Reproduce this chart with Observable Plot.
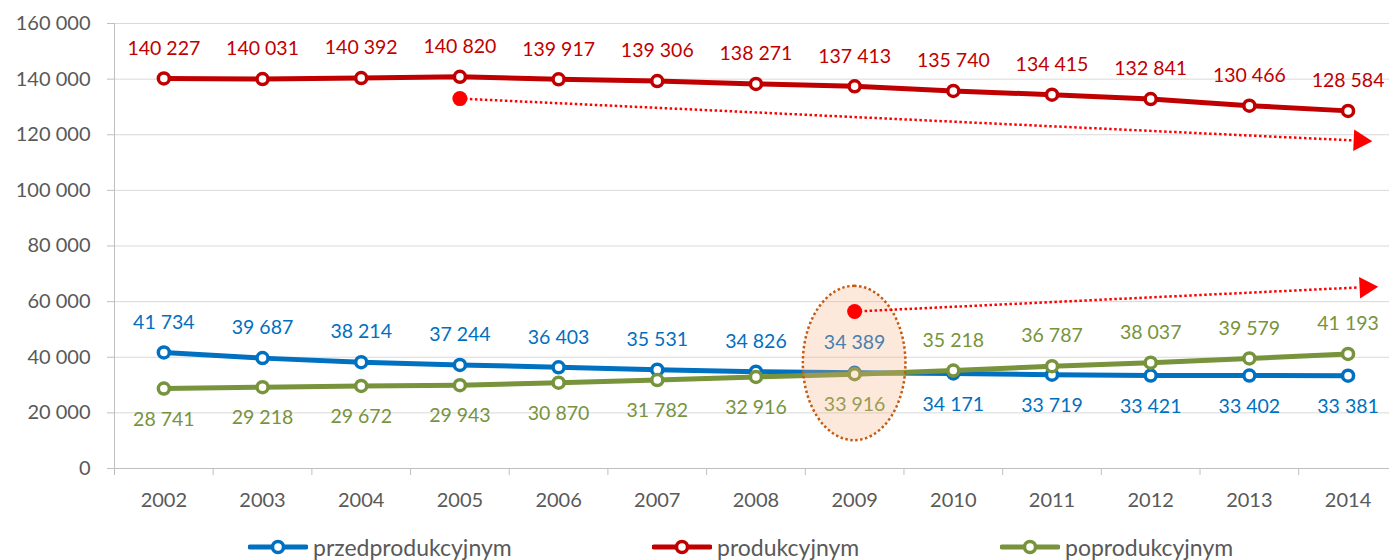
<!DOCTYPE html>
<html><head><meta charset="utf-8">
<script src="https://cdn.jsdelivr.net/npm/d3@7"></script>
<script src="https://cdn.jsdelivr.net/npm/@observablehq/plot@0.6"></script>
<style>
body{margin:0;background:#fff;font-family:Lato,sans-serif;}
#chart{position:relative;width:1389px;height:560px;overflow:hidden;}
#chart > svg{position:absolute;left:0;top:0;}
.lg{position:absolute;top:533px;display:flex;align-items:center;font-size:23px;color:#595959;white-space:nowrap;}
.lg svg{margin-right:5px;}
</style></head><body><div id="chart"></div>
<script>
const years = [2002,2003,2004,2005,2006,2007,2008,2009,2010,2011,2012,2013,2014];
const przedprodukcyjnym = [41734,39687,38214,37244,36403,35531,34826,34389,34171,33719,33421,33402,33381];
const produkcyjnym = [140227,140031,140392,140820,139917,139306,138271,137413,135740,134415,132841,130466,128584];
const poprodukcyjnym = [28741,29218,29672,29943,30870,31782,32916,33916,35218,36787,38037,39579,41193];
const seriesNames = ["przedprodukcyjnym","produkcyjnym","poprodukcyjnym"];
const seriesColors = ["#0070C0","#C00000","#77933C"];
const yTicks = [0,20000,40000,60000,80000,100000,120000,140000,160000];
// trend annotation arrows (start dot -> arrow head)
const trendStart = [{year:2005, value:133000},{year:2009, value:56450}];
const trendEnd = [{year:2014.04, value:118000},{year:2014.11, value:65100}];
const trendHead = [{year:2014.12, value:117900},{year:2014.18, value:65100}];
// highlighted crossing region around 2009
const highlight = [{x1:2008.48, x2:2009.52, y1:10000, y2:65500}];

const fmt = v => d3.format(",")(v).replace(/,/g, "\u00a0");
const seriesValues = [przedprodukcyjnym, produkcyjnym, poprodukcyjnym];
const rows = seriesValues.map((vals, s) => years.map((year, i) => {
  let above = true;
  if (s === 0) above = vals[i] > poprodukcyjnym[i];
  if (s === 2) above = vals[i] > przedprodukcyjnym[i];
  return {year, value: vals[i], s, above};
}));
const links = trendStart.map((d, i) => ({x1:d.year, y1:d.value, x2:trendEnd[i].year, y2:trendEnd[i].value}));

const seriesMarks = rows.flatMap((data, s) => [
  Plot.line(data, {x:"year", y:"value", stroke:seriesColors[s], strokeWidth:5}),
  Plot.dot(data, {x:"year", y:"value", r:5.5, fill:"white", stroke:seriesColors[s], strokeWidth:3.5})
]);
const labelMarks = rows.flatMap((data, s) => [
  Plot.text(data, {filter:d=>d.above, x:"year", y:"value", text:d=>fmt(d.value), dy:-30, fill:seriesColors[s], fontSize:19.5}),
  Plot.text(data, {filter:d=>!d.above, x:"year", y:"value", text:d=>fmt(d.value), dy:31, fill:seriesColors[s], fontSize:19.5})
]);

const plot = Plot.plot({
  width:1389, height:525, marginLeft:114, marginRight:0, marginTop:23, marginBottom:57,
  style:{fontFamily:"Lato, sans-serif", background:"transparent", overflow:"visible"},
  x:{type:"linear", domain:[2001.5, 2014.42], label:null},
  y:{domain:[0,160000], label:null},
  marks:[
    Plot.ruleY(yTicks.filter(v=>v>0), {stroke:"#D9D9D9", strokeWidth:1}),
    Plot.axisY({ticks:yTicks, tickSize:7, tickFormat:()=>"", stroke:"#BFBFBF", label:null}),
    Plot.axisY({ticks:yTicks, tickSize:0, tickPadding:24, tickFormat:fmt, fontSize:20, fill:"#595959", label:null}),
    Plot.axisX({ticks:d3.range(2001.5, 2015, 1), tickSize:7, tickFormat:()=>"", stroke:"#BFBFBF", label:null}),
    Plot.axisX({ticks:years, tickSize:0, tickPadding:24, tickFormat:d=>String(d), fontSize:20, fill:"#595959", label:null}),
    Plot.ruleY([0], {stroke:"#BFBFBF", strokeWidth:1}),
    Plot.ruleX([2001.5], {stroke:"#BFBFBF", strokeWidth:1}),
    ...seriesMarks,
    ...labelMarks,
    Plot.rect(highlight, {x1:"x1", x2:"x2", y1:"y1", y2:"y2", rx:80, ry:100, fill:"#F4B183", fillOpacity:0.28, stroke:"#C55A11", strokeWidth:2.5, strokeDasharray:"2.5 2.5"}),
    Plot.link(links, {x1:"x1", y1:"y1", x2:"x2", y2:"y2", stroke:"#FF0000", strokeWidth:2.5, strokeDasharray:"2.5 2.5"}),
    Plot.dot(trendStart, {x:"year", y:"value", r:7.5, fill:"#FF0000"}),
    Plot.dot(trendHead, {x:"year", y:"value", symbol:"triangle", r:8, fill:"#FF0000", rotate:(d,i)=>i===0?92.7:87.3})
  ]
});
const chart = document.getElementById("chart");
chart.appendChild(plot);

const legendLeft = [248, 652, 1000];
seriesNames.forEach((name, i) => {
  const div = document.createElement("div");
  div.className = "lg";
  div.style.left = legendLeft[i] + "px";
  div.innerHTML = `<svg width="60" height="16"><line x1="2" x2="58" y1="8" y2="8" stroke="${seriesColors[i]}" stroke-width="5" stroke-linecap="round"/><circle cx="30" cy="8" r="5.5" fill="white" stroke="${seriesColors[i]}" stroke-width="3.5"/></svg><span>${name}</span>`;
  chart.appendChild(div);
});
</script></body></html>
